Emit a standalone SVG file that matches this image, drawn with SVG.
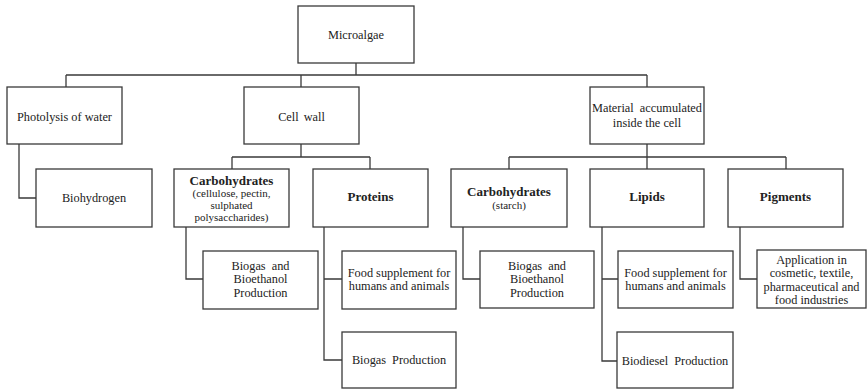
<svg xmlns="http://www.w3.org/2000/svg" width="867" height="389" viewBox="0 0 867 389" font-family="'Liberation Serif', 'Times New Roman', 'DejaVu Serif', serif">
<style>
.box{fill:#fff;stroke:#3a3a3a;stroke-width:1.3}
.ln{fill:none;stroke:#3a3a3a;stroke-width:1.3}
text{font-family:'Liberation Serif','Times New Roman','DejaVu Serif',serif;font-size:12.3px;fill:#222;text-anchor:middle}
.b{font-weight:bold;font-size:13px}
.s{font-size:11px}
</style>
<rect width="867" height="389" fill="#fff"/>
<g id="connectors">
<path class="ln" d="M356 63V75M66 75H647M66 75V87M301 75V87M647 75V87"/>
<path class="ln" d="M19 144V198H36"/>
<path class="ln" d="M301 144V157M232 157H370M232 157V169M370 157V169"/>
<path class="ln" d="M647 144V157M509 157H786M509 157V169M647 157V169M786 157V169"/>
<path class="ln" d="M186 227V279H203"/>
<path class="ln" d="M324 227V360H342M324 279H342"/>
<path class="ln" d="M463 227V279H480"/>
<path class="ln" d="M602 227V361H617M602 279H618"/>
<path class="ln" d="M740 227V279H757"/>
</g>
<g id="microalgae"><rect class="box" x="298" y="6" width="116" height="57"/><text x="356" y="39">Microalgae</text></g>
<g id="photolysis"><rect class="box" x="7" y="87" width="115" height="57"/><text x="64.5" y="121">Photolysis of water</text></g>
<g id="cellwall"><rect class="box" x="244" y="87" width="115" height="57"/><text x="301.5" y="121" word-spacing="2">Cell wall</text></g>
<g id="material"><rect class="box" x="590" y="87" width="114" height="57"/><text x="647" y="112" word-spacing="3">Material accumulated</text><text x="647" y="127">inside the cell</text></g>
<g id="biohydrogen"><rect class="box" x="36" y="169" width="116" height="58"/><text x="94" y="202">Biohydrogen</text></g>
<g id="carbo1"><rect class="box" x="174" y="169" width="115" height="58"/><text class="b" x="231.5" y="185">Carbohydrates</text><text class="s" x="231.5" y="197">(cellulose, pectin,</text><text class="s" x="231.5" y="209">sulphated</text><text class="s" x="231.5" y="221">polysaccharides)</text></g>
<g id="proteins"><rect class="box" x="313" y="169" width="115" height="58"/><text class="b" x="370.5" y="201">Proteins</text></g>
<g id="carbo2"><rect class="box" x="451" y="169" width="116" height="58"/><text class="b" x="509" y="196">Carbohydrates</text><text class="s" x="509" y="209">(starch)</text></g>
<g id="lipids"><rect class="box" x="590" y="169" width="114" height="58"/><text class="b" x="647" y="201">Lipids</text></g>
<g id="pigments"><rect class="box" x="728" y="169" width="115" height="58"/><text class="b" x="785.5" y="201">Pigments</text></g>
<g id="biogas1"><rect class="box" x="203" y="251" width="115" height="58"/><text x="260.5" y="270" word-spacing="3">Biogas and</text><text x="260.5" y="283">Bioethanol</text><text x="260.5" y="297">Production</text></g>
<g id="food1"><rect class="box" x="342" y="251" width="114" height="58"/><text x="399" y="277">Food supplement for</text><text x="399" y="290">humans and animals</text></g>
<g id="biogasprod"><rect class="box" x="342" y="332" width="114" height="56"/><text x="399" y="364" word-spacing="3">Biogas Production</text></g>
<g id="biogas2"><rect class="box" x="480" y="251" width="114" height="57"/><text x="537" y="270" word-spacing="3">Biogas and</text><text x="537" y="283">Bioethanol</text><text x="537" y="297">Production</text></g>
<g id="food2"><rect class="box" x="618" y="251" width="115" height="57"/><text x="675.5" y="277">Food supplement for</text><text x="675.5" y="290">humans and animals</text></g>
<g id="biodiesel"><rect class="box" x="617" y="332" width="116" height="56"/><text x="675" y="365" word-spacing="3">Biodiesel Production</text></g>
<g id="application"><rect class="box" x="757" y="250" width="109" height="58"/><text x="811.5" y="264">Application in</text><text x="811.5" y="277">cosmetic, textile,</text><text x="811.5" y="291">pharmaceutical and</text><text x="811.5" y="304">food industries</text></g>
</svg>
